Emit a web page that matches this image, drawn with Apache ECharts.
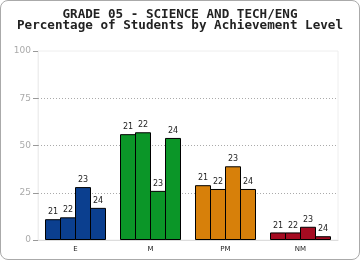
<!DOCTYPE html>
<html>
<head>
<meta charset="utf-8">
<script src="https://cdn.jsdelivr.net/npm/echarts@6/dist/echarts.min.js"></script>
<style>
  html, body { margin: 0; padding: 0; background: #fff; }
  #chart { width: 358px; height: 258px; border: 1px solid #aaa; border-radius: 8px; }
</style>
</head>
<body>
<div id="chart"></div>
<script>
let categories = ['E', 'M', 'PM', 'NM']
let years = ['21', '22', '23', '24']
let catColors = ['#0b3f8f', '#0b9628', '#d7800a', '#a50b21']
let yTicks = [0, 25, 50, 75, 100]
let y21 = [11, 56, 29, 4]
let y22 = [12, 57, 27, 4]
let y23 = [28, 26, 39, 7]
let y24 = [17, 54, 27, 2]

let seriesValues = [y21, y22, y23, y24]

// dotted guides only between the ends, the frame covers 0 and 100
let guides = yTicks.slice(1, -1).map(function (t) { return {yAxis: t} })

let myChart = echarts.init(document.getElementById('chart'))
myChart.setOption({
  animation: false,
  title: {
    text: 'GRADE 05 - SCIENCE AND TECH/ENG\nPercentage of Students by Achievement Level',
    left: 'center',
    top: 3,
    textStyle: {
      fontFamily: 'DejaVu Sans Mono',
      fontSize: 12.6,
      fontWeight: 'bold',
      color: '#222',
      lineHeight: 11
    }
  },
  grid: {
    show: true,
    left: 37,
    right: 21,
    top: 50,
    bottom: 19,
    borderColor: '#eee',
    borderWidth: 1
  },
  xAxis: {
    type: 'category',
    data: categories,
    axisTick: {show: false},
    axisLine: {lineStyle: {color: '#ddd'}},
    axisLabel: {color: '#222', fontSize: 7, fontFamily: 'DejaVu Sans', margin: 6}
  },
  yAxis: {
    type: 'value',
    min: yTicks[0],
    max: yTicks[yTicks.length - 1],
    interval: 25,
    axisLine: {show: true, lineStyle: {color: '#eee'}},
    axisTick: {show: true, length: 5, lineStyle: {color: '#999'}},
    axisLabel: {color: '#aaa', fontSize: 9, fontFamily: 'DejaVu Sans', margin: 7},
    splitLine: {show: false}
  },
  series: years.map(function (y, si) {
    let s = {
      name: y,
      type: 'bar',
      barGap: '-6.25%', // 1px overlap so neighbours share one border
      barWidth: 16,
      z: 3,
      data: seriesValues[si].map(function (v, ci) {
        return {value: v, itemStyle: {color: catColors[ci]}}
      }),
      itemStyle: {borderColor: '#000', borderWidth: 1},
      label: {
        show: true,
        position: 'top',
        formatter: y,
        fontSize: 8,
        fontFamily: 'DejaVu Sans',
        color: '#222',
        distance: 3
      }
    }
    if (si === 0) {
      s.markLine = {
        silent: true,
        symbol: 'none',
        z: 1,
        label: {show: false},
        lineStyle: {color: '#aaa', type: [1, 2], width: 1},
        data: guides
      }
    }
    return s
  })
})
</script>
</body>
</html>
